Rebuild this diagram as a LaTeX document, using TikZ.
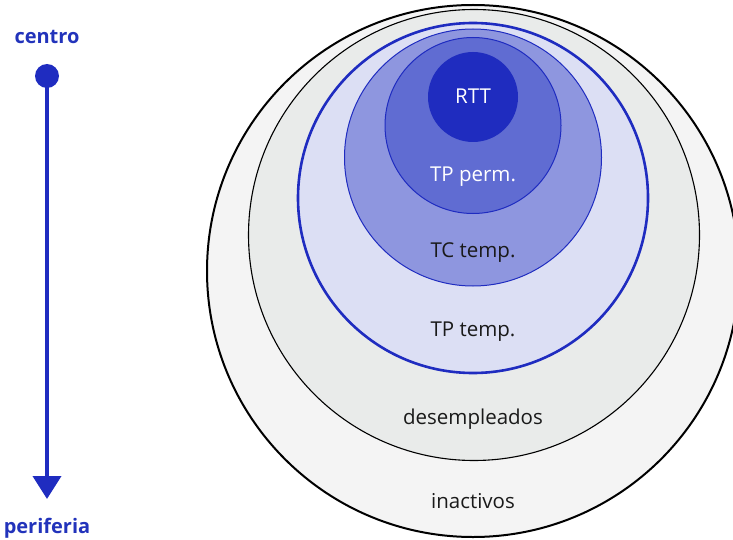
\documentclass[tikz,border=0pt]{standalone}
\usepackage{fontspec}
\setmainfont{Open Sans}
\usetikzlibrary{arrows.meta}

\definecolor{ringblue}{HTML}{1F2CC0}
\definecolor{fillout}{HTML}{F4F4F4}
\definecolor{filldes}{HTML}{E9EBEA}
\definecolor{filltpt}{HTML}{DCDFF4}
\definecolor{filltct}{HTML}{8E96DF}
\definecolor{filltpp}{HTML}{606CD2}
\definecolor{fillrtt}{HTML}{1F2CBF}
\definecolor{labeldark}{HTML}{1A1A1A}
\definecolor{axisblue}{HTML}{2233BB}

\tikzset{
  ringlabel/.style={anchor=base, inner sep=0pt, font=\fontsize{20.5}{24}\selectfont, text=labeldark},
  ringlabelw/.style={ringlabel, text=white},
  axislabel/.style={anchor=base, inner sep=0pt, font=\fontsize{20}{24}\selectfont\bfseries, text=axisblue},
}

\begin{document}
\begin{tikzpicture}[x=1pt, y=-1pt]
  \useasboundingbox (0,0) rectangle (733,540);
  \clip (0,0) rectangle (733,540);

  % nested rings, outermost first
  \filldraw[fill=fillout, draw=black, line width=2pt] (473,271) circle[radius=266];
  \filldraw[fill=filldes, draw=black, line width=1.1pt] (474,235) circle[radius=225.5];
  \filldraw[fill=filltpt, draw=ringblue, line width=2.6pt] (473,198) circle[radius=175];
  \filldraw[fill=filltct, draw=ringblue, line width=1pt] (473,157.5) circle[radius=128.5];
  \filldraw[fill=filltpp, draw=ringblue, line width=1pt] (473,125.5) circle[radius=88];
  \fill[fillrtt] (473,97) circle[radius=45];

  % ring labels
  \node[ringlabelw] (rtt) at (473,104) {RTT};
  \node[ringlabelw] (tpperm) at (473,182) {TP perm.};
  \node[ringlabel] (tctemp) at (473,257) {TC temp.};
  \node[ringlabel] (tptemp) at (473,336) {TP temp.};
  \node[ringlabel] (desemp) at (473,424) {desempleados};
  \node[ringlabel] (inact) at (473,508) {inactivos};

  % centre-to-periphery axis
  \node[axislabel] (centro) at (47,44) {centro};
  \node[circle, fill=ringblue, minimum size=24pt, inner sep=0pt] (dot) at (47,76) {};
  \coordinate (tip) at (47,499);
  \draw[ringblue, line width=4pt, -{Triangle[width=28pt, length=23pt]}] (dot.center) -- (tip);
  \node[axislabel] (periferia) at (47,533) {periferia};
\end{tikzpicture}
\end{document}
